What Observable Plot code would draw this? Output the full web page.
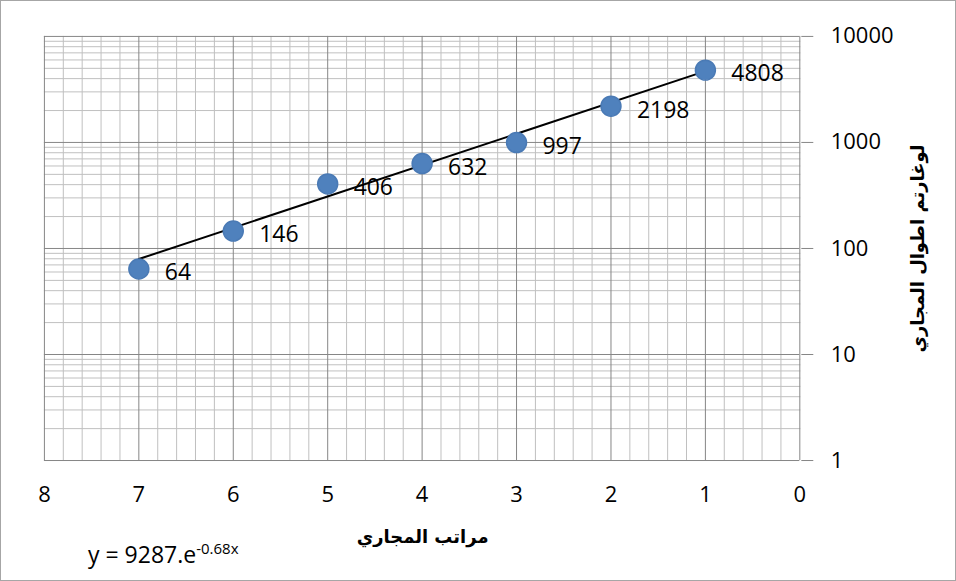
<!DOCTYPE html>
<html>
<head>
<meta charset="utf-8">
<script src="https://cdn.jsdelivr.net/npm/d3@7"></script>
<script src="https://cdn.jsdelivr.net/npm/@observablehq/plot@0.6"></script>
<style>
  html, body { margin: 0; padding: 0; background: #fff; }
  #wrap { position: relative; width: 956px; height: 581px; box-sizing: border-box; border: 1px solid #a6a6a6; overflow: hidden; }
  #eq { position: absolute; left: 87px; top: 537px; font-family: "Open Sans", sans-serif; font-size: 23px; color: #000; white-space: nowrap; }
  #eq sup { font-size: 15px; vertical-align: 9px; line-height: 0; }
</style>
</head>
<body>
<div id="wrap"><div id="eq">y = 9287.e<sup>-0.68x</sup></div></div>
<script>
const orders = [1, 2, 3, 4, 5, 6, 7];
const lengths = [4808, 2198, 997, 632, 406, 146, 64];
const trendX = [1, 7];
const trendY = [4705, 79.5];
const xTicks = [0, 1, 2, 3, 4, 5, 6, 7, 8];
const yTicks = [1, 10, 100, 1000, 10000];
const xLabel = "مراتب المجاري";
const yLabel = "لوغارتم اطوال المجاري";

const points = orders.map((o, i) => ({x: o, y: lengths[i]}));
const trend = trendX.map((x, i) => ({x, y: trendY[i]}));
const xMinor = d3.range(0, 40).map(i => i / 5).filter(v => !Number.isInteger(v));
const yMinor = [];
for (const d of [1, 10, 100, 1000]) for (let k = 2; k <= 9; k++) yMinor.push(d * k);

const chart = Plot.plot({
  width: 956,
  height: 579,
  marginLeft: 43,
  marginRight: 155,
  marginTop: 35,
  marginBottom: 119,
  style: {fontFamily: "'Open Sans', 'DejaVu Sans', sans-serif", fontSize: "22px", color: "#000"},
  x: {domain: [8, 0], range: [43, 800]},
  y: {type: "log", domain: [1, 10000]},
  marks: [
    Plot.ruleX(xMinor, {stroke: "#c0c0c0", strokeWidth: 1}),
    Plot.ruleY(yMinor, {stroke: "#c0c0c0", strokeWidth: 1}),
    Plot.ruleX(xTicks, {stroke: "#868686", strokeWidth: 1}),
    Plot.ruleY(yTicks, {stroke: "#868686", strokeWidth: 1, x1: 8, x2: 0}),
    Plot.axisX({ticks: xTicks, tickSize: 0, tickPadding: 26, label: null, tickFormat: d => String(d), fontSize: 22}),
    Plot.axisY({anchor: "right", ticks: yTicks, tickSize: 12, tickPadding: 18, label: null, tickFormat: d => String(d), stroke: "#868686", fontSize: 22}),
    Plot.line(trend, {x: "x", y: "y", stroke: "#000", strokeWidth: 2}),
    Plot.dot(points, {x: "x", y: "y", r: 10, fill: "#4f81bd", stroke: "#4a7ab5"}),
    Plot.text(points, {x: "x", y: "y", text: d => String(d.y), textAnchor: "start", dx: 26, dy: 4, fontSize: 23}),
    Plot.text([xLabel], {frameAnchor: "bottom", textAnchor: "middle", dy: 83, fontWeight: "bold", fontSize: 18, fontFamily: "'DejaVu Sans', sans-serif"}),
    Plot.text([yLabel], {frameAnchor: "right", textAnchor: "middle", dx: 118, rotate: -90, fontWeight: "bold", fontSize: 18, fontFamily: "'DejaVu Sans', sans-serif"})
  ]
});
document.getElementById("wrap").prepend(chart);
</script>
</body>
</html>
